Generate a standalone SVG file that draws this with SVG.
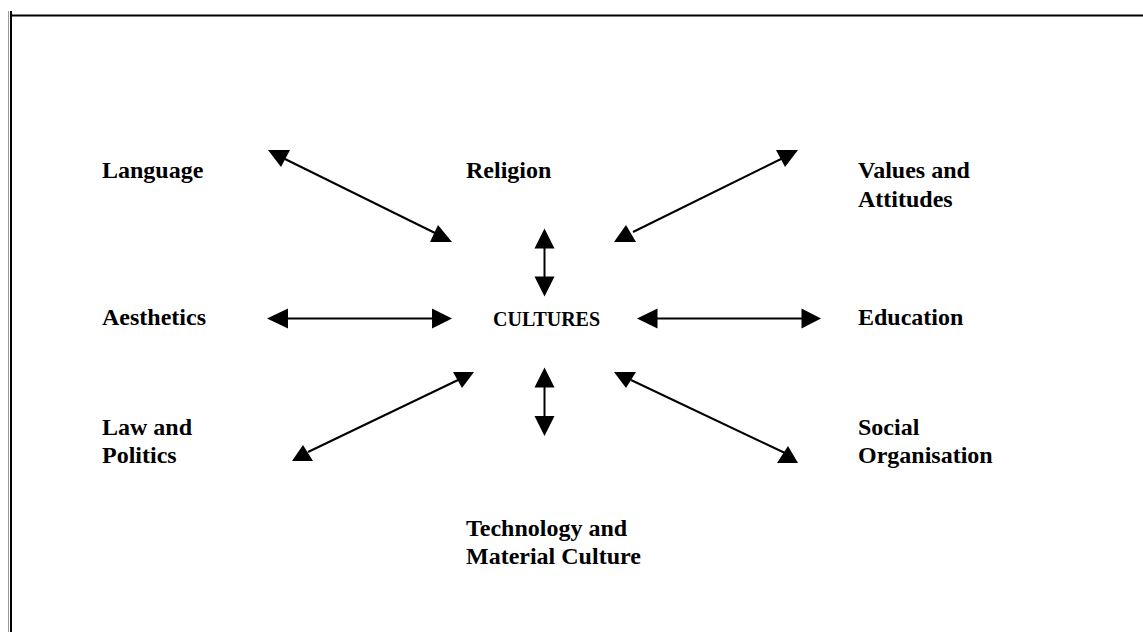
<svg xmlns="http://www.w3.org/2000/svg" width="1143" height="632" viewBox="0 0 1143 632">
<style>
text{font-family:"Liberation Serif","Times New Roman",serif;font-weight:bold;fill:#000;font-size:24px}
.small{font-size:20px}
.ln{stroke:#000;stroke-width:2;fill:none}
.hd{fill:#000}
</style>
<rect width="1143" height="632" fill="#fff"/>
<g id="frame">
<line x1="8.5" y1="11" x2="8.5" y2="632" stroke="#999" stroke-width="1"/>
<line x1="11" y1="11" x2="11" y2="632" stroke="#000" stroke-width="2"/>
<line x1="10" y1="15.5" x2="1143" y2="15.5" stroke="#000" stroke-width="2"/>
</g>
<g id="connectors">
<line class="ln" x1="285" y1="159" x2="435" y2="233"/>
<polygon class="hd" points="268,150 290,150 281,167"/>
<polygon class="hd" points="430,242 452,242 438,225"/>
<line class="ln" x1="633" y1="232" x2="783" y2="158"/>
<polygon class="hd" points="776,150 798,150 785,167"/>
<polygon class="hd" points="614,242 636,242 626,225"/>
<line class="ln" x1="287" y1="318.5" x2="433" y2="318.5"/>
<polygon class="hd" points="267,318.5 288,308.5 288,328.5"/>
<polygon class="hd" points="452,318.5 432,308.5 432,328.5"/>
<line class="ln" x1="657" y1="318.5" x2="802" y2="318.5"/>
<polygon class="hd" points="637,318.5 657.5,308.5 657.5,328.5"/>
<polygon class="hd" points="821,318.5 801.5,308.5 801.5,328.5"/>
<line class="ln" x1="544.5" y1="248" x2="544.5" y2="277"/>
<polygon class="hd" points="544.5,228.5 534.5,248.5 554.5,248.5"/>
<polygon class="hd" points="544.5,296.5 534.5,276.5 554.5,276.5"/>
<line class="ln" x1="544.5" y1="387" x2="544.5" y2="417"/>
<polygon class="hd" points="544.5,367.5 534.5,387.5 554.5,387.5"/>
<polygon class="hd" points="544.5,436 534.5,416 554.5,416"/>
<line class="ln" x1="308" y1="452" x2="458" y2="380"/>
<polygon class="hd" points="292,461 313,461 303,445"/>
<polygon class="hd" points="453,372 474,372 462,388"/>
<line class="ln" x1="631" y1="380" x2="785" y2="453"/>
<polygon class="hd" points="614,372 636,372 626,388"/>
<polygon class="hd" points="777,463 798,463 788,446"/>
</g>
<g id="node-language"><text x="102" y="178">Language</text></g>
<g id="node-religion"><text x="466" y="178">Religion</text></g>
<g id="node-values"><text x="858" y="178">Values and</text><text x="858" y="207">Attitudes</text></g>
<g id="node-aesthetics"><text x="102" y="325">Aesthetics</text></g>
<g id="node-cultures"><text class="small" x="493" y="326">CULTURES</text></g>
<g id="node-education"><text x="858" y="325">Education</text></g>
<g id="node-law"><text x="102" y="435">Law and</text><text x="102" y="463">Politics</text></g>
<g id="node-social"><text x="858" y="435">Social</text><text x="858" y="463">Organisation</text></g>
<g id="node-technology"><text x="466" y="536">Technology and</text><text x="466" y="564">Material Culture</text></g>
</svg>
